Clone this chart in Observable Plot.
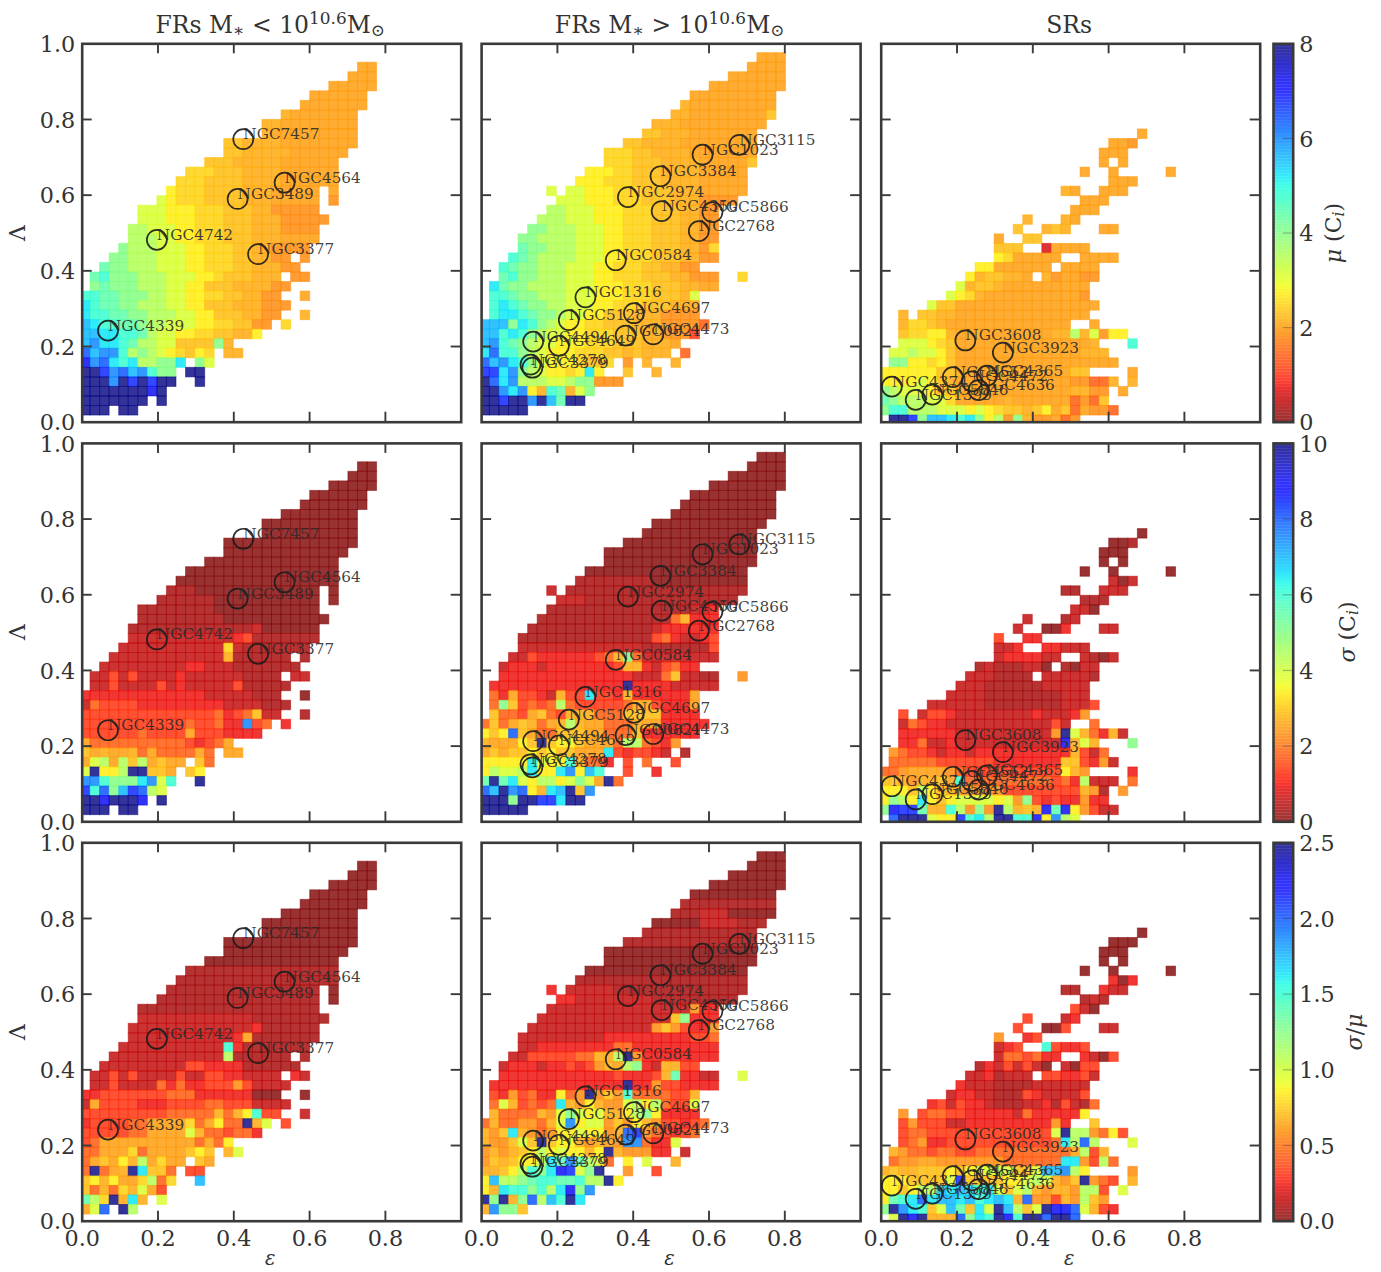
<!DOCTYPE html>
<html><head><meta charset="utf-8">
<script src="https://cdn.jsdelivr.net/npm/d3@7"></script>
<script src="https://cdn.jsdelivr.net/npm/@observablehq/plot@0.6"></script>
<style>
html,body{margin:0;padding:0;background:#fff}
#fig{position:relative;width:1381px;height:1272px;overflow:hidden;font-family:"DejaVu Serif",serif;color:#333}
#fig svg{position:absolute;background:none;overflow:visible;max-width:none}
.lab{position:absolute;white-space:nowrap;line-height:26px}
.title{font-size:23.5px;transform:translateX(-50%)}
.rot{font-size:22px;transform:translate(-50%,-50%) rotate(-90deg)}
.xl{font-size:19.5px;font-style:italic;line-height:16px;transform:translateX(-50%)}
sup{font-size:.72em;line-height:0;vertical-align:.52em}
sub{font-size:.72em;line-height:0;vertical-align:-.18em}
</style></head><body><div id="fig"></div>
<script>
// colour levels: each letter is a fraction of the colour-bar range
const levelCodes = "aAbBcdeFfGgHhijklmnopqrst";
const levelValues = [0,.03,.055,.075,.095,.13,.175,.23,.25,.265,.285,.31,.34,.39,.44,.5,.55,.6,.65,.7,.75,.8,.85,.9,1];
const xTicks = [0,.2,.4,.6,.8];
const yTicks = [0,.2,.4,.6,.8,1];
const innerTicks = [.2,.4,.6,.8];
const binStep = .0252, xOrigin = -.0032, yOrigin = -.0076;
// rows: "row|first column|run-length colour letters", "." is an empty bin
const muLow = ["37|29|f2","36|28|f3","35|26|f5","34|24|f6","33|23|f7","32|21|Gf7","31|19|G2f8","30|19|Gf9","29|15|g2G4f8","28|15|g2G5f6","27|13|g3G5f6","26|11|H3g3G4f6","25|10|H3g4G4f6","24|9|hH3g4G3f5.f","23|8|ihH3g4G3f5.F","22|6|i3h3H3g3G2F5","21|6|i3h3H3g3G3F5","20|5|j2i3h2H3g3G3F4","19|5|j3i2h2H3g3G3f4","18|4|kj3i3h2H3g2G2F4","17|3|k2j3i3h2H3g2G2F2.F","16|2|lk2j3i3h2H3g2G3F2","15|1|lmk3j3i3h2Hg3G3.F2","14|1|klk3j3i2h2g3G4F2","13|0|m2l2k3j2i2h2H2g2G2F2.2f","12|0|nml2k2j3i2h2g3G3F3","11|0|nm2l2k2j3i2h2g3G2F2.2G","10|0|onm2l2kj2i3h2H2g2F2.H","9|0|o2n2m2lji2h2H2g2G2h","8|0|opn2mlj2i2g4kG","7|0|qop2mjkjihHghH.G2","6|0|spqnmnj2k2n.ki","5|0|t2rpqopmk2.t2","4|0|t3ptrtrt2.2t","3|0|t7st","2|0|t7.t","1|0|t3.t2"];
const muHigh = ["38|29|f3","37|28|f4","36|26|f6","35|24|f8","34|22|f9","33|21|Gf9","32|20|G2f8g","31|18|G3f9","30|17|g2G3f7","29|15|g2G4f8","28|13|H3g2G4f7","27|13|H3g3G4f5g","26|11|h3H2g3G4f5","25|10|h3H3g3G4f5","24|7|i.i2h3H3g3G3f5","23|8|i3h3H3g3G3F4","22|7|j2i3h3H3g3G2F2","21|6|j3i3h3H3g3G2F2","20|5|k2j3i3h2H3g3G2F2","19|4|k2j4i3h2H3g3G2F2","18|4|lk2j3i3h2H3g3G2FH","17|3|mlkj4i3h2H3g3G2F2","16|2|mlk2j3i3h2H3g2G2F2","15|2|lmk2j3i3h2H3g3G2F3.2H","14|1|nlk2j4i3h3H3g3G2f2","13|1|m2lk2j3i3h3H3g3Gi","12|1|mnmlk2j2i3h2H3g3G3","11|1|mn2mlk2ji2h2g3G3F4","10|0|o3knmkjih2H2g3G3F4e","9|0|o2mnmkji2h2H3g3G2F2Fd","8|0|opmlkji2h3H3g3G3f","7|0|nqm2kjih3H3g2GgG3.e","6|0|qopnmkih3Hg2H.F.G.2G","5|0|r2npkjih2Hhnh.2g.2G","4|0|tqnpj3i2jk2F3","3|0|t2pnphGmlGik","2|0|t2rt2ptolt2","1|0|t5"];
const muSR = ["30|27|f","29|24|f2F","28|23|f3","27|23|f.f","26|21|f.2f.5f","25|24|f3","24|19|Gf.2f3","23|21|f3","22|20|f3","21|15|G.3Gf","20|14|g.2GgG.3f2","19|12|f.2g2","18|12|g3.2Bf4","17|12|hHf5.2f4","16|10|h2f6.f4","15|9|hGg2G2f.GFf2F2","14|8|iGg2Gf9","13|7|ihHGf10F","12|5|ig2f15","11|2|G.g2G2f14","10|2|GH2gGf13.2f","9|2|gH2h2Gf10G2jGiFh2","8|2|i3hHgf14G.3m","7|1|i2ji2hgf13G3","6|1|k2h2Hhgf17","5|0|h6g2Gf11g2.4f","4|0|h4ihgGf12F2e2G.G","3|0|kji3hg2f12G2F2.f","2|0|lkj3i2Hf5Gf6eFeg","1|0|km2j3i3hihHg2GghfgefF2e","0|1|t2rko2nmnkhjFkGF2feF"];
const sigLow = ["37|29|a2","36|28|a3","35|26|a5","34|24|a6","33|23|a7","32|21|a8","31|19|a10","30|19|a10","29|15|a14","28|15|a13","27|13|a14","26|11|a16","25|10|a17","24|9|A3a13.a","23|8|A6a11.a","22|6|A8a11","21|6|A9a11","20|5|A13ba6","19|5|b11cdA7","18|4|b11HbA7","17|3|b12GA6.A","16|2|b9c2b3A7","15|1|b2dbdb4cb6A4.b2","14|1|b2db4dbcb5dA5","13|0|c13b5A3.2a","12|0|bed4c9b4A3","11|0|d14ecdegb2.2A","10|0|d11ed2ec2pde.c","9|0|d6ed4fd3c4","8|0|fe10dcdef","7|0|gfGf2Gefe4fe.f2","6|0|fijfjgjfgf2.ge","5|0|ith2jt2g2f.gh","4|0|p2mk3npim.2t","3|0|rmqkorqji","2|0|t2st3s.t","1|0|t3.t2"];
const sigHigh = ["38|29|a3","37|28|a4","36|26|a6","35|24|a8","34|22|a9","33|21|a10","32|20|a11","31|18|a12","30|17|a12","29|15|a14","28|13|a16","27|13|a16","26|11|a17","25|10|A8a10","24|7|b.A19","23|8|b3A16","22|7|A15b2c","21|6|A14eGc3","20|5|A13bc6","19|4|A14decb2cd","18|4|b13A7d","17|3|b2dc6deGkeb8","16|2|bc3bc7dG2cbdec2","15|2|c14b3egb2A2.2F","14|1|c14tc4b5","13|1|ecfd2cbGd2nd2cGc6f","12|1|ekgdedejed5eG2dc3f","11|1|ge2dfgedG3e3g4c4","10|0|egefgGefGjGf2e3Gf2c5","9|0|hghqgfe2g3f2e3gc6","8|0|Gf3hgtgh2gf3ej2edcF","7|0|fgfg2hghg2f3ndcd2cb.A","6|0|h5nih2mGe2c.d.e.2d","5|0|hji2jnh2nphom.2d.2c","4|0|ltlnihj2hikifte","3|0|qotpqhGnotgp","2|0|t3kt2r2nt2","1|0|t5"];
const sigSR = ["30|27|a","29|24|a2A","28|23|a3","27|23|a.a","26|21|a.2a.5a","25|24|bab","24|19|A2.2b3","23|21|A3","22|20|b2a","21|15|b.3Ab","20|14|b.2a2c.3b2","19|12|d.2c2","18|12|b2c.2c2b3","17|12|bc4b2.2bAab","16|10|AbA3b2a.Aab2","15|9|b3A4.b5A","14|8|b3A6b5","13|7|b4A8b3","12|5|b6A8b3d","11|2|d.bd2cb8cb3cF","10|2|bedc2b3b8db.2e","9|2|c6b10FtiGecGb","8|2|c2eb2cb11sGiG.3k","7|1|Fed2cbc2bc10Gdbe","6|1|e5d6c7g2dcFb","5|0|e2Ff4Fedd9hGF.4c","4|0|g2GFG2gfme9decjb3.e","3|0|h3gjhgGF5d7dGFA.F","2|0|hkjhnhghi4hiFkdcdc2Fc2","1|0|ksr2lG2mjFkFtjGgGslshFdb2","0|1|qt3ih2rmnjt2m2shpji"];
const ratLow = ["37|29|a2","36|28|a3","35|26|a5","34|24|a6","33|23|a7","32|21|a8","31|19|a10","30|19|a10","29|15|a14","28|15|a13","27|13|a14","26|11|A16","25|10|A17","24|9|A16.a","23|8|A17.a","22|6|A19","21|6|b12A8","20|5|b13cA6","19|5|b11cfA7","18|4|b11mcA7","17|3|b12jA6.A","16|2|b9d2c4A6","15|1|b2dbdb4db2d2c2b4.cb","14|1|b2db4ecec2d3Fdb4","13|0|c2d7e3c6a3.2a","12|0|bfd4c3d4e2d3b4","11|0|d9e5GeGhmd2.2b","10|0|cd4e2f4Hefhe2tGi.d","9|0|d5e2f4iGe2de2c","8|0|def10efeh","7|0|e2f3Hef4ghg.Gi","6|0|efgfhGjfHf2.gf","5|0|etefGtng2e.d2","4|0|ghGhf2HjeH.2o","3|0|geGeHGifd","2|0|ljHtGnG.i","1|0|fiq.tj"];
const ratHigh = ["38|29|a3","37|28|a4","36|26|a6","35|24|a8","34|22|a9","33|21|A10","32|20|A3b3a5","31|18|a5b4A3","30|17|A12","29|15|A14","28|13|a16","27|13|a16","26|11|a17","25|10|A18","24|7|c.b5A14","23|8|c2b8A9","22|7|b15Fc2","21|6|b14gkc3","20|5|b13FgFdc2F","19|4|b9c9d2e","18|4|b2c8e2c9","17|3|b2d5e2G2jtFc8","16|2|bc3bc2dcdFGfjkcbG2d2","15|2|c12dc3dGlc2b2.2i","14|1|c14tc2Fd2c4","13|1|dcFdec2heFtFgFme4d2G","12|1|eiGdedenGFhGF2ijhjed2i","11|1|Ge4GFikihiG2hjkhc4","10|0|eGe2F2eGiphi2FgFhGFd2cde","9|0|GFgnGFeFh2ih2FGqrFedcde","8|0|GF2gigtgh2GFGfFp2ec2i","7|0|FGFGghjhih2GhtGF3c2.b","6|0|FgGgh2jnlpljie.h.i.2G","5|0|G2ghjmknsrikt.2F.2d","4|0|hoj2klm2l2mj2th","3|0|hGnm2kmjnskp","2|0|tktGkqjomtn","1|0|Gpk2g"];
const ratSR = ["30|27|a","29|24|a3","28|23|a3","27|23|a.a","26|21|a.2a.5a","25|24|cac","24|19|A2.2cb2","23|21|AbA","22|20|dba","21|15|d.3bc","20|14|d.2a2d.3b2","19|12|F.2cd","18|12|bcd.2mdc2d","17|12|be2dec2.2cbad","16|10|Acbdbdba.bad2","15|9|b2cAb3.d2c2db","14|8|cb3A4b6","13|7|bc2b2A3dcb2b2d","12|5|cdbdc2bA3b2cAdbAe","11|2|F.de2d2c5bec5h","10|2|dFd3b2c9Fc.2g","9|2|de2d13itj2Fehd","8|2|deFc2dd10enjqj.3i","7|1|GFe2de2d2e4e6fjdG","6|1|eF2f2F7e6n2Fdje","5|0|GgG2g3hghi4g2io2pjh.4F","4|0|h3g4irg4h2ijiGFgtFed.G","3|0|h2ghj2ononmnigijGFG2Fj2d.i","2|0|hlmnqno2nomnonGqF2dGFjgF","1|0|ktpnmgiolgnitojgits2qiGdc","0|1|itstG3qknmtsmt2qt2q"];
// galaxies: name, ellipticity, lambda
const galaxiesLow = [["NGC7457",.425,.748],["NGC4564",.534,.633],["NGC3489",.41,.59],["NGC4742",.197,.482],["NGC3377",.464,.444],["NGC4339",.068,.242]];
const galaxiesHigh = [["NGC3115",.68,.733],["NGC1023",.583,.707],["NGC3384",.472,.65],["NGC2974",.386,.595],["NGC4350",.475,.558],["NGC5866",.609,.555],["NGC2768",.573,.505],["NGC0584",.354,.428],["NGC1316",.274,.33],["NGC4697",.402,.288],["NGC5128",.23,.27],["NGC0821",.38,.229],["NGC4473",.453,.232],["NGC4494",.136,.213],["NGC4649",.204,.202],["NGC4278",.129,.152],["NGC3379",.134,.144]];
const galaxiesSR = [["NGC3608",.222,.216],["NGC3923",.321,.184],["NGC4365",.279,.123],["NGC4552",.189,.119],["NGC4472",.239,.108],["NGC4636",.257,.085],["NGC5846",.135,.073],["NGC4374",.028,.094],["NGC1399",.091,.059]];
const colTitles = ['FRs M<sub>∗</sub> &lt; 10<sup>10.6</sup>M<sub>⊙</sub>','FRs M<sub>∗</sub> &gt; 10<sup>10.6</sup>M<sub>⊙</sub>','SRs'];
const colLefts = [81.7,481.1,880.7], rowTops = [43.3,442.9,842.3];
const panelW = 379, panelH = 378.4, barLeft = 1273, barW = 19.7;
const rowsSpec = [
  {vmax:8,ticks:[0,2,4,6,8],fmt:d=>d3.format("d")(d),label:'<i>μ</i> (C<sub><i>i</i></sub>)',lx:1334,grids:[muLow,muHigh,muSR]},
  {vmax:10,ticks:[0,2,4,6,8,10],fmt:d=>d3.format("d")(d),label:'<i>σ</i> (C<sub><i>i</i></sub>)',lx:1348,grids:[sigLow,sigHigh,sigSR]},
  {vmax:2.5,ticks:[0,.5,1,1.5,2,2.5],fmt:d=>d3.format(".1f")(d),label:'<i>σ</i>/<i>μ</i>',lx:1355,grids:[ratLow,ratHigh,ratSR]}
];
const galaxySets = [galaxiesLow,galaxiesHigh,galaxiesSR];

const jetR = d3.scaleLinear([0,.35,.66,.89,1],[0,0,1,1,.5]);
const jetG = d3.scaleLinear([0,.125,.375,.64,.91,1],[0,0,1,1,0,0]);
const jetB = d3.scaleLinear([0,.11,.34,.65,1],[.5,1,1,0,0]);
const jetReversed = t => { const u = 1-t; return `rgb(${Math.round(255*jetR(u))},${Math.round(255*jetG(u))},${Math.round(255*jetB(u))})`; };

function parseGrid(rows, vmax){
  const out = [];
  for (const row of rows){
    const [j,start,codes] = row.split("|");
    let k = +start;
    for (const m of codes.matchAll(/([A-Za-z.])(\d*)/g)){
      const n = m[2] ? +m[2] : 1;
      for (let i=0;i<n;i++,k++){
        if (m[1]===".") continue;
        out.push({x1:xOrigin+k*binStep,x2:xOrigin+(k+1)*binStep,y1:yOrigin+(+j)*binStep,y2:yOrigin+(+j+1)*binStep,v:levelValues[levelCodes.indexOf(m[1])]*vmax});
      }
    }
  }
  return out;
}
const fig = document.getElementById("fig");
const place = (svg,l,t)=>{svg.style.left=l+"px";svg.style.top=t+"px";fig.appendChild(svg);};
const dark = "#3a3a3a", tickLen = 10/379;
const fontStyle = {fontFamily:'"DejaVu Serif",serif',background:"none",overflow:"visible"};

rowsSpec.forEach((spec,ri)=>{
  const top = rowTops[ri], svgTop = Math.floor(top)-20, mt = top-svgTop, H = 450;
  spec.grids.forEach((rows,ci)=>{
    const left = colLefts[ci], svgLeft = Math.floor(left)-60, ml = left-svgLeft, W = 480;
    const g = galaxySets[ci];
    const marks = [
      Plot.rect(parseGrid(rows,spec.vmax),{x1:"x1",x2:"x2",y1:"y1",y2:"y2",fill:"v",stroke:"v",fillOpacity:.8,strokeOpacity:.5,strokeWidth:1,clip:true}),
      Plot.ruleX(innerTicks,{y1:0,y2:tickLen,stroke:dark,strokeWidth:1.9}),
      Plot.ruleX(innerTicks,{y1:1-tickLen,y2:1,stroke:dark,strokeWidth:1.9}),
      Plot.ruleY(innerTicks,{x1:0,x2:tickLen,stroke:dark,strokeWidth:1.9}),
      Plot.ruleY(innerTicks,{x1:1-tickLen,x2:1,stroke:dark,strokeWidth:1.9}),
      Plot.frame({stroke:dark,strokeWidth:2.6}),
      Plot.dot(g,{x:d=>d[1],y:d=>d[2],r:10,stroke:"#1a1a1a",strokeWidth:1.7,fill:"none",strokeOpacity:.9}),
      Plot.text(g,{x:d=>d[1],y:d=>d[2],text:d=>d[0],textAnchor:"start",lineAnchor:"bottom",fontSize:15.3,fill:"#2a2a2a",fillOpacity:.9})
    ];
    if (ri===2) marks.push(Plot.axisX({anchor:"bottom",ticks:xTicks,tickFormat:d3.format(".1f"),tickSize:0,tickPadding:9,fontSize:22.3,fill:"#333",label:null}));
    if (ci===0) marks.push(Plot.axisY({anchor:"left",ticks:yTicks,tickFormat:d3.format(".1f"),tickSize:0,tickPadding:7,dy:1,fontSize:22.3,fill:"#333",label:null}));
    const svg = Plot.plot({width:W,height:H,marginLeft:ml,marginTop:mt,marginRight:W-ml-panelW,marginBottom:H-mt-panelH,
      x:{domain:[0,1],axis:null},y:{domain:[0,1],axis:null},
      color:{type:"linear",domain:[0,spec.vmax],interpolate:jetReversed},style:fontStyle,marks});
    place(svg,svgLeft,svgTop);
  });
  // colour bar
  const ramp = d3.range(128).map(i=>({a:i/128*spec.vmax,b:(i+1)/128*spec.vmax,v:(i+.5)/128*spec.vmax}));
  const svgLeft = 1253, W = 120, ml = barLeft-svgLeft;
  const inner = spec.ticks.slice(1,-1);
  const bar = Plot.plot({width:W,height:H,marginLeft:ml,marginTop:mt,marginRight:W-ml-barW,marginBottom:H-mt-panelH,
    x:{domain:[0,1],axis:null},y:{domain:[0,spec.vmax],axis:null},
    color:{type:"linear",domain:[0,spec.vmax],interpolate:jetReversed},style:fontStyle,
    marks:[
      Plot.rect(ramp,{x1:0,x2:1,y1:"a",y2:"b",fill:"v",fillOpacity:.8,stroke:"v",strokeOpacity:.15,strokeWidth:.6}),
      Plot.ruleY(inner,{x1:.5,x2:1,stroke:"#333",strokeOpacity:.35,strokeWidth:1.2}),
      Plot.frame({stroke:dark,strokeWidth:2.6}),
      Plot.axisY({anchor:"right",ticks:spec.ticks,tickFormat:spec.fmt,tickSize:0,tickPadding:6,dy:1,fontSize:22.3,fill:"#333",label:null})
    ]});
  place(bar,svgLeft,svgTop);
  // axis titles
  const cy = top+panelH/2;
  const addLab = (cls,html,l,t)=>{const d=document.createElement("div");d.className="lab "+cls;d.innerHTML=html;d.style.left=l+"px";d.style.top=t+"px";fig.appendChild(d);};
  addLab("rot",'Λ',18,cy);
  addLab("rot",spec.label,spec.lx,cy);
  if (ri===2) colLefts.forEach(l=>addLab("xl",'ε',l+panelW/2-1,1251));
  if (ri===0) colLefts.forEach((l,i)=>addLab("title",colTitles[i],l+panelW/2-1,12));
});
</script>
</body></html>
